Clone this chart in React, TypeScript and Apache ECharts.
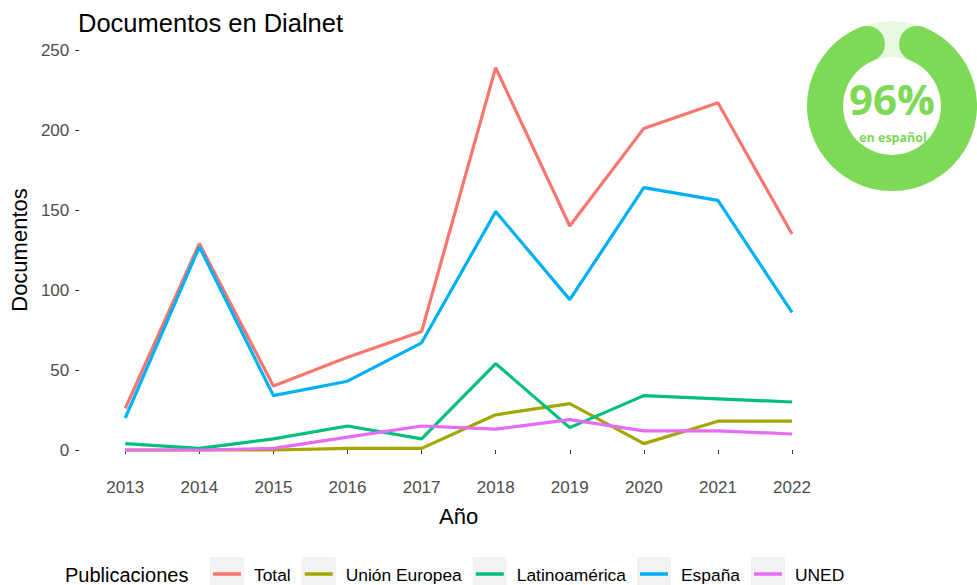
import React, { useEffect, useRef } from "react";
import * as echarts from "echarts";

const YEARS = [2013, 2014, 2015, 2016, 2017, 2018, 2019, 2020, 2021, 2022];
const TOTAL = [26, 129, 40, 58, 74, 239, 140, 201, 217, 135];
const UNION_EUROPEA = [0, 0, 0, 1, 1, 22, 29, 4, 18, 18];
const LATINOAMERICA = [4, 1, 7, 15, 7, 54, 14, 34, 32, 30];
const ESPANA = [20, 127, 34, 43, 67, 149, 94, 164, 156, 86];
const UNED = [0, 0, 1, 8, 15, 13, 19, 12, 12, 10];

const SERIES_NAMES = ["Total", "Unión Europea", "Latinoamérica", "España", "UNED"];
const SERIES_VALUES = [TOTAL, UNION_EUROPEA, LATINOAMERICA, ESPANA, UNED];
const SERIES_COLORS = ["#F8766D", "#A3A500", "#00BF7D", "#00B0F6", "#E76BF3"];

const Y_TICKS = [0, 50, 100, 150, 200, 250];
const SPANISH_SHARE = 96;

const FONT = "'Liberation Sans', Arial, sans-serif";

function measure(text: string, font: string): number {
  const c = document.createElement("canvas");
  const ctx = c.getContext("2d");
  if (!ctx) return text.length * 9;
  ctx.font = font;
  return ctx.measureText(text).width;
}

export default function App() {
  const ref = useRef<HTMLDivElement>(null);

  useEffect(() => {
    document.body.style.margin = "0";
    if (!ref.current) return;
    const chart = echarts.init(ref.current, undefined, { renderer: "svg" });

    const legendFont = `17.4px ${FONT}`;
    const legendY = 575;
    const legendEls: any[] = [
      {
        type: "text",
        x: 65,
        y: legendY,
        style: {
          text: "Publicaciones",
          font: `20px ${FONT}`,
          fill: "#000000",
          verticalAlign: "middle",
          align: "left",
        },
      },
    ];
    let lx = 210;
    SERIES_NAMES.forEach((name, i) => {
      legendEls.push({
        type: "rect",
        shape: { x: lx, y: 557, width: 34, height: 34 },
        style: { fill: "#F2F2F2" },
      });
      legendEls.push({
        type: "line",
        shape: { x1: lx + 3, y1: 574, x2: lx + 31, y2: 574 },
        style: { stroke: SERIES_COLORS[i], lineWidth: 3.5 },
      });
      legendEls.push({
        type: "text",
        x: lx + 44,
        y: legendY,
        style: {
          text: name,
          font: legendFont,
          fill: "#000000",
          verticalAlign: "middle",
          align: "left",
        },
      });
      lx += 44 + measure(name, legendFont) + 11;
    });

    const cx = 892;
    const cy = 106;
    const gap = (22 * Math.PI) / 180;

    chart.setOption({
      animation: false,
      backgroundColor: "#FFFFFF",
      textStyle: { fontFamily: FONT },
      grid: { left: 123, right: 185, top: 50, bottom: 135, containLabel: false },
      xAxis: {
        type: "value",
        min: 2013,
        max: 2022,
        interval: 1,
        offset: 19,
        name: "Año",
        nameLocation: "middle",
        nameGap: 36,
        nameTextStyle: { fontSize: 22, color: "#000000", fontFamily: FONT },
        axisLine: { show: false },
        axisTick: { show: true, length: 4, lineStyle: { color: "#333333", width: 1 } },
        axisLabel: {
          fontSize: 17,
          color: "#4D4D4D",
          margin: 10,
          fontFamily: FONT,
          formatter: (v: number) => String(v),
        },
        splitLine: { show: false },
      },
      yAxis: {
        type: "value",
        min: Y_TICKS[0],
        max: Y_TICKS[Y_TICKS.length - 1],
        interval: 50,
        offset: 46,
        name: "Documentos",
        nameLocation: "middle",
        nameGap: 42,
        nameRotate: 90,
        nameTextStyle: { fontSize: 22, color: "#000000", fontFamily: FONT },
        axisLine: { show: false },
        axisTick: { show: true, length: 4, lineStyle: { color: "#333333", width: 1 } },
        axisLabel: { fontSize: 17, color: "#4D4D4D", margin: 10, fontFamily: FONT },
        splitLine: { show: false },
      },
      series: SERIES_NAMES.map((name, i) => ({
        name,
        type: "line",
        data: YEARS.map((y, j) => [y, SERIES_VALUES[i][j]]),
        symbol: "none",
        lineStyle: { color: SERIES_COLORS[i], width: 3.2 },
        itemStyle: { color: SERIES_COLORS[i] },
        clip: false,
      })),
      graphic: [
        {
          type: "text",
          x: 78,
          y: 23,
          style: {
            text: "Documentos en Dialnet",
            font: `25.5px ${FONT}`,
            fill: "#000000",
            verticalAlign: "middle",
            align: "left",
          },
        },
        {
          type: "ring",
          shape: { cx, cy, r: 85, r0: 49 },
          style: { fill: "#E8F8E0" },
        },
        {
          type: "arc",
          shape: {
            cx,
            cy,
            r: 67,
            startAngle: -Math.PI / 2 + gap,
            endAngle: -Math.PI / 2 - gap + Math.PI * 2,
            clockwise: true,
          },
          style: { stroke: "#7ED957", lineWidth: 36, lineCap: "round", fill: "none" },
        },
        {
          type: "text",
          x: cx,
          y: 98,
          style: {
            text: `${SPANISH_SHARE}%`,
            font: `bold 42px 'Open Sans', sans-serif`,
            fill: "#7ED957",
            align: "center",
            verticalAlign: "middle",
          },
        },
        {
          type: "text",
          x: cx + 1,
          y: 137,
          style: {
            text: "en español",
            font: `bold 12.5px 'Open Sans', sans-serif`,
            fill: "#7ED957",
            align: "center",
            verticalAlign: "middle",
          },
        },
        ...legendEls,
      ],
    });

    return () => {
      chart.dispose();
    };
  }, []);

  return <div ref={ref} style={{ width: 977, height: 585 }} />;
}
